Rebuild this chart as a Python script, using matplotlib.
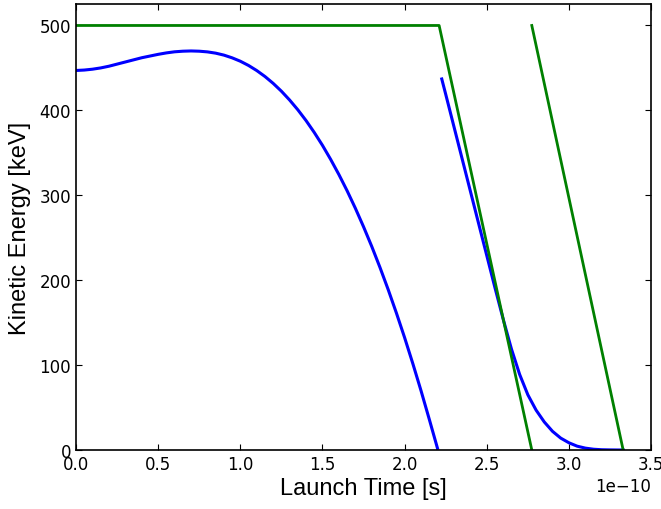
import matplotlib
matplotlib.use('Agg')
import matplotlib.pyplot as plt
import numpy as np

# launch time in units of 1e-10 s, energies in keV
blue1_t = [0.0, 0.05, 0.1, 0.15, 0.2, 0.25, 0.3, 0.35, 0.4, 0.45, 0.5, 0.55, 0.6, 0.65,
           0.7, 0.75, 0.8, 0.85, 0.9, 0.95, 1.0, 1.05, 1.1, 1.15, 1.2, 1.25, 1.3, 1.35,
           1.4, 1.45, 1.5, 1.55, 1.6, 1.65, 1.7, 1.75, 1.8, 1.85, 1.9, 1.95, 2.0, 2.05,
           2.1, 2.15, 2.2]
blue1_e = [447, 447.5, 448.5, 450, 452, 454.5, 457, 459.5, 462, 464, 466, 467.7, 469, 469.7,
           470, 469.7, 468.9, 467.4, 465.1, 461.9, 457.9, 452.9, 446.9, 439.9, 431.8, 422.6, 412.2, 400.7,
           388, 374, 358.8, 342.2, 324.4, 305.3, 284.8, 262.9, 239.7, 215, 188.9, 161.3, 132.3, 101.7,
           69.7, 36.2, 2]

blue2_t = [2.226, 2.25, 2.3, 2.35, 2.4, 2.45, 2.5, 2.55, 2.6, 2.65, 2.7, 2.75, 2.8, 2.85,
           2.9, 2.95, 3.0, 3.05, 3.1, 3.15, 3.2, 3.25, 3.3, 3.33]
blue2_e = [437, 419, 381, 343, 305, 267, 229, 191, 154, 119, 89, 65, 47, 33,
           22, 14, 8.5, 4.5, 2.2, 0.9, 0.3, 0.1, 0, 0]

green1_t = [0.0, 2.21, 2.774]
green1_e = [500, 500, 0]
green2_t = [2.774, 3.33]
green2_e = [500, 0]

plt.rcParams['xtick.direction'] = 'in'
plt.rcParams['ytick.direction'] = 'in'
plt.rcParams['xtick.top'] = True
plt.rcParams['ytick.right'] = True
plt.rcParams['xtick.major.size'] = 4
plt.rcParams['ytick.major.size'] = 4

fig = plt.figure(figsize=(6.61, 5.1), dpi=100)
ax = fig.add_axes([0.115, 0.1157, 0.870, 0.874])

ax.plot(np.array(blue1_t) * 1e-10, blue1_e, color='b', lw=2.2)
ax.plot(np.array(blue2_t) * 1e-10, blue2_e, color='b', lw=2.2)
ax.plot(np.array(green1_t) * 1e-10, green1_e, color='g', lw=2)
ax.plot(np.array(green2_t) * 1e-10, green2_e, color='g', lw=2)

ax.set_xlim(0, 3.5e-10)
ax.set_ylim(0, 525)
ax.set_xticks(np.arange(0, 3.51, 0.5) * 1e-10)
ax.set_yticks([0, 100, 200, 300, 400, 500])
ax.tick_params(labelsize=12)
ax.xaxis.get_offset_text().set_fontsize(12)
for s in ax.spines.values():
    s.set_linewidth(1.2)

ax.set_xlabel('Launch Time [s]', fontsize=17, family='Liberation Sans', labelpad=3)
ax.set_ylabel('Kinetic Energy [keV]', fontsize=17, family='Liberation Sans', labelpad=6)

fig.savefig('out.png', dpi=100)
